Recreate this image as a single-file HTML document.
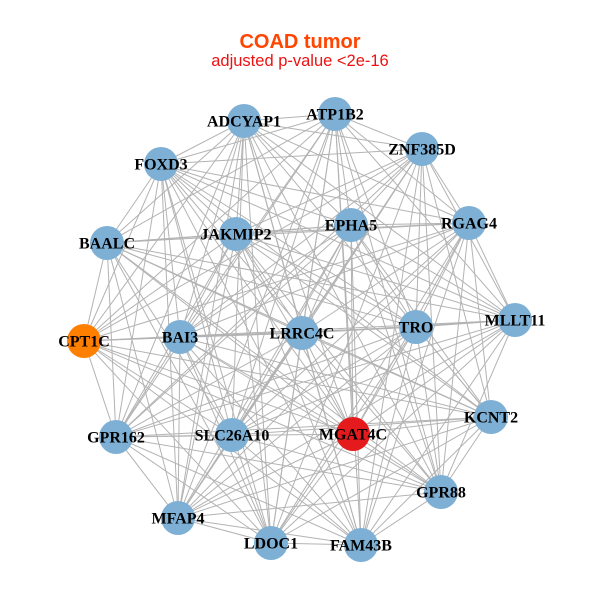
<!DOCTYPE html>
<html><head><meta charset="utf-8"><style>
html,body{margin:0;padding:0;background:#fff;}
svg{display:block;}
.l{font-family:"Liberation Serif",serif;font-weight:bold;font-size:16px;fill:#000;text-anchor:middle;dominant-baseline:central;}
</style></head><body>
<svg id="s" width="600" height="600" viewBox="0 0 600 600">
<rect width="600" height="600" fill="#fff"/>
<text x="300" y="48" text-anchor="middle" font-family="Liberation Sans,sans-serif" font-weight="bold" font-size="20" fill="#ff4500">COAD tumor</text>
<text x="300" y="66" text-anchor="middle" font-family="Liberation Sans,sans-serif" font-size="16.5" fill="#ee1111">adjusted p-value &lt;2e-16</text>
<g id="e" stroke="#b3b3b3" stroke-width="1"></g>
<g id="n"></g>
<g>
<text class="l" x="244" y="122">ADCYAP1</text>
<text class="l" x="335" y="115">ATP1B2</text>
<text class="l" x="161" y="165">FOXD3</text>
<text class="l" x="422" y="150">ZNF385D</text>
<text class="l" x="107" y="244">BAALC</text>
<text class="l" x="236" y="235">JAKMIP2</text>
<text class="l" x="351" y="226">EPHA5</text>
<text class="l" x="469" y="224">RGAG4</text>
<text class="l" x="84" y="342">CPT1C</text>
<text class="l" x="180" y="338">BAI3</text>
<text class="l" x="302" y="334">LRRC4C</text>
<text class="l" x="416" y="328">TRO</text>
<text class="l" x="515" y="321">MLLT11</text>
<text class="l" x="116" y="438">GPR162</text>
<text class="l" x="232" y="436">SLC26A10</text>
<text class="l" x="353" y="435">MGAT4C</text>
<text class="l" x="491" y="418">KCNT2</text>
<text class="l" x="441" y="493">GPR88</text>
<text class="l" x="178" y="519">MFAP4</text>
<text class="l" x="271" y="544">LDOC1</text>
<text class="l" x="361" y="546">FAM43B</text>
</g>
</svg>
<script>
var P=[[244,121],[335,114],[161,164],[422,149],[107,243],[236,234],[351,225],[469,223],[84,341],[180,337],[302,333],[416,327],[515,320],[116,437],[232,435],[353,434],[491,417],[441,492],[178,518],[271,543],[361,545]];
var ns="http://www.w3.org/2000/svg",e=document.getElementById("e"),n=document.getElementById("n");
for(var i=0;i<P.length;i++)for(var j=i+1;j<P.length;j++){
 if((i*7+j*3)%11==0)continue;
 var l=document.createElementNS(ns,"line");
 l.setAttribute("x1",P[i][0]);l.setAttribute("y1",P[i][1]);l.setAttribute("x2",P[j][0]);l.setAttribute("y2",P[j][1]);e.appendChild(l);}
for(var i=0;i<P.length;i++){var c=document.createElementNS(ns,"circle");
 c.setAttribute("cx",P[i][0]);c.setAttribute("cy",P[i][1]);c.setAttribute("r",17);
 c.setAttribute("fill",i==8?"#ff7f00":(i==15?"#e41a1c":"#7eb0d5"));n.appendChild(c);}
</script>
</body></html>
